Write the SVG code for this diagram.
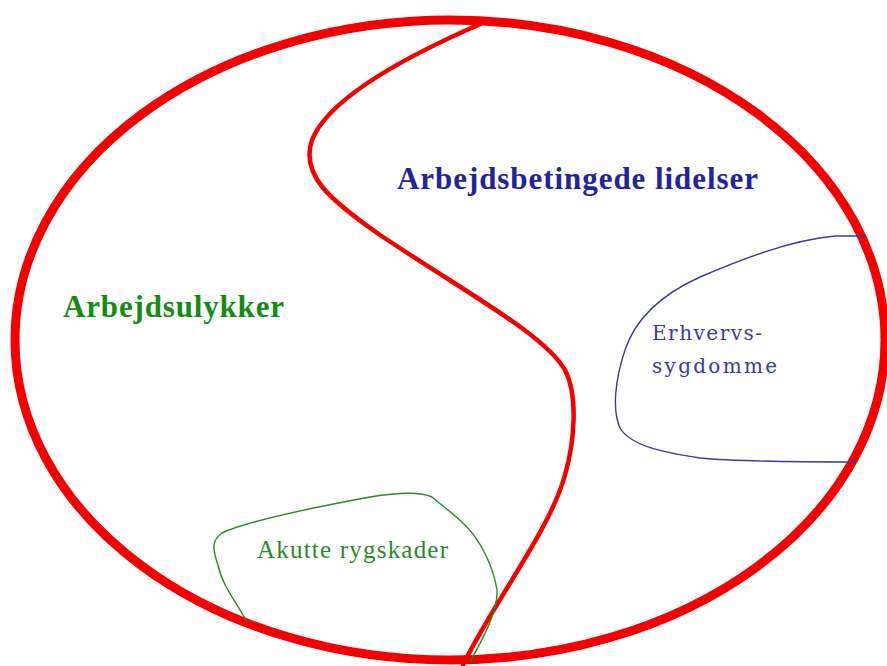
<svg xmlns="http://www.w3.org/2000/svg" width="887" height="666" viewBox="0 0 887 666">
<style>
.red{fill:none;stroke:#f40000;stroke-linecap:round;stroke-linejoin:round}
.blob-g{fill:none;stroke:#2a8a2a;stroke-width:1.4}
.blob-b{fill:none;stroke:#3a3aa0;stroke-width:1.4}
.t{font-family:"Liberation Serif","Times New Roman",serif}
.d{font-family:"DejaVu Serif","Liberation Serif",serif}
.big{font-weight:bold;font-size:31px}
</style>
<rect width="887" height="666" fill="#ffffff"/>
<g id="connectors">
<path id="divider" class="red" stroke-width="4.5" d="M485,22 C420,50 330,95 312,140 C300,175 330,200 380,235 C470,295 545,335 565,370 C578,395 575,440 565,475 C550,530 495,600 463,665"/>
</g>
<g id="outer">
<ellipse class="red" cx="450" cy="340" rx="435" ry="320" stroke-width="9"/>
</g>
<g id="erhvervssygdomme">
<path class="blob-b" d="M866,236 L835,236 C790,240 740,260 700,277 C660,295 635,320 625,350 C615,380 612,410 620,428 C630,445 660,452 700,458 C740,462 800,462 857,462"/>
<text class="d" x="652" y="340" font-size="20" fill="#3a3aa0" textLength="110" lengthAdjust="spacing">Erhvervs-</text>
<text class="d" x="652" y="373" font-size="20" fill="#3a3aa0" textLength="125" lengthAdjust="spacing">sygdomme</text>
</g>
<g id="akutte">
<path class="blob-g" d="M247,622 C235,600 222,585 218,565 C212,548 212,540 222,533 C245,522 300,510 370,497 C395,493 420,491 432,497 C445,508 455,515 465,525 C480,540 493,565 497,590 C498,610 485,635 470,662"/>
<text class="t" x="257" y="558" font-size="25" fill="#2a8a2a" textLength="191" lengthAdjust="spacing">Akutte rygskader</text>
</g>
<g id="arbejdsbetingede">
<text class="t big" x="397" y="189" fill="#2323a0" textLength="361" lengthAdjust="spacing">Arbejdsbetingede lidelser</text>
</g>
<g id="arbejdsulykker">
<text class="t big" x="63" y="317" fill="#158a15" textLength="221" lengthAdjust="spacing">Arbejdsulykker</text>
</g>
</svg>
